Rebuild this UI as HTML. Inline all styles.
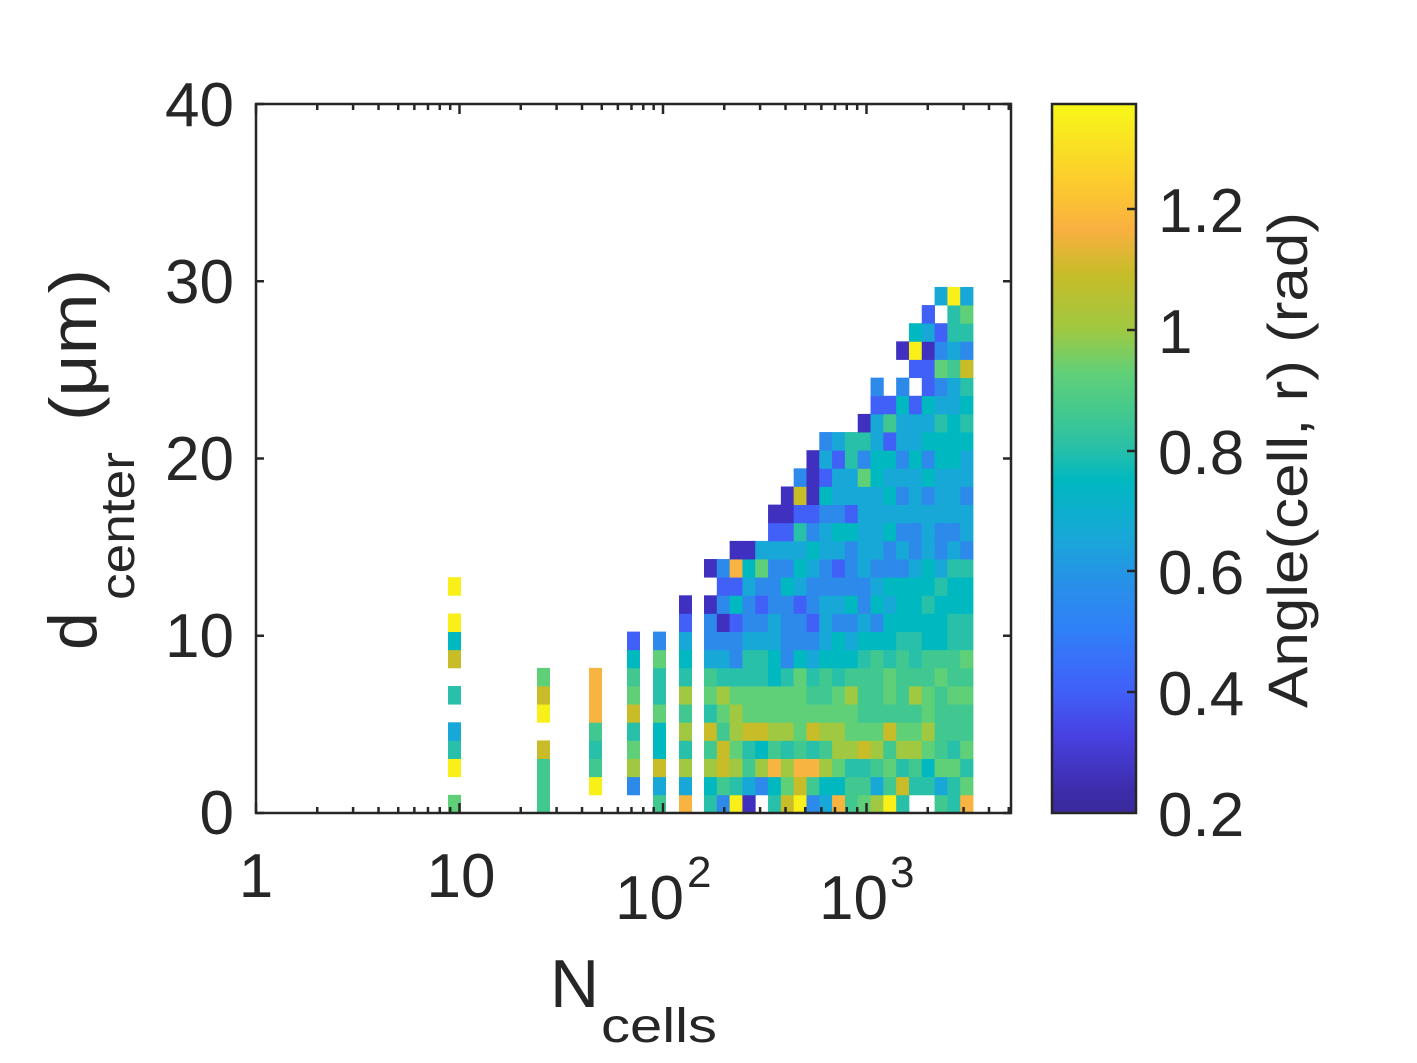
<!DOCTYPE html>
<html><head><meta charset="utf-8"><style>html,body{margin:0;padding:0;background:#fff}svg{display:block}</style></head>
<body>
<svg id="s" width="1417" height="1063" xmlns="http://www.w3.org/2000/svg" font-family="Liberation Sans, Arial, sans-serif" fill="#262626">
<defs>
<linearGradient id="cb" x1="0" y1="1" x2="0" y2="0">
<stop offset="0" stop-color="#3a2a9c"/>
<stop offset="0.028" stop-color="#3c2ca8"/>
<stop offset="0.107" stop-color="#4840e0"/>
<stop offset="0.172" stop-color="#4060f8"/>
<stop offset="0.258" stop-color="#3080f8"/>
<stop offset="0.323" stop-color="#2890e8"/>
<stop offset="0.390" stop-color="#18a8d8"/>
<stop offset="0.469" stop-color="#00b8c0"/>
<stop offset="0.514" stop-color="#28c0a8"/>
<stop offset="0.560" stop-color="#40c890"/>
<stop offset="0.620" stop-color="#60d078"/>
<stop offset="0.683" stop-color="#a0c840"/>
<stop offset="0.762" stop-color="#c8bc28"/>
<stop offset="0.821" stop-color="#f8b040"/>
<stop offset="0.881" stop-color="#fcc830"/>
<stop offset="1" stop-color="#f8f818"/>
</linearGradient>
</defs>
<g id="cells"></g>
<!-- axes box -->
<rect x="256" y="104" width="755" height="709" fill="none" stroke="#262626" stroke-width="2.5"/>
<g id="ticks" stroke="#262626" stroke-width="2.5"></g>
<!-- y tick labels -->
<g font-size="62" text-anchor="end">
<text x="234" y="834">0</text>
<text x="234" y="657">10</text>
<text x="234" y="480">20</text>
<text x="234" y="303">30</text>
<text x="234" y="126">40</text>
</g>
<!-- x tick labels -->
<g font-size="62">
<text x="256" y="897" text-anchor="middle">1</text>
<text x="461" y="897" text-anchor="middle">10</text>
<text x="615" y="919">10</text><text x="687" y="887" font-size="44">2</text>
<text x="819" y="919">10</text><text x="890" y="887" font-size="44">3</text>
</g>
<!-- x label -->
<text x="550" y="1007" font-size="68">N</text>
<text x="601" y="1042" font-size="48" textLength="116" lengthAdjust="spacingAndGlyphs">cells</text>
<!-- y label -->
<g transform="translate(96,650) rotate(-90)">
<text x="0" y="0" font-size="68">d</text>
<text x="50" y="38" font-size="48" textLength="148" lengthAdjust="spacingAndGlyphs">center</text>
<text x="229" y="0" font-size="66" textLength="152" lengthAdjust="spacingAndGlyphs">(μm)</text>
</g>
<!-- colorbar -->
<rect x="1052" y="104" width="84" height="709" fill="url(#cb)" stroke="#262626" stroke-width="2.5"/>
<g stroke="#262626" stroke-width="2.5">
<line x1="1136" y1="209" x2="1127" y2="209"/>
<line x1="1136" y1="330" x2="1127" y2="330"/>
<line x1="1136" y1="451" x2="1127" y2="451"/>
<line x1="1136" y1="571" x2="1127" y2="571"/>
<line x1="1136" y1="692" x2="1127" y2="692"/>
</g>
<g font-size="62">
<text x="1158" y="232">1.2</text>
<text x="1158" y="353">1</text>
<text x="1158" y="474">0.8</text>
<text x="1158" y="594">0.6</text>
<text x="1158" y="715">0.4</text>
<text x="1158" y="836">0.2</text>
</g>
<text transform="translate(1307,708) rotate(-90)" font-size="56" textLength="496" lengthAdjust="spacingAndGlyphs">Angle(cell, r) (rad)</text>
</svg>
<script>
(function(){
var NS="http://www.w3.org/2000/svg";
var C={P:"#4030c0",B:"#4060f8",b:"#2d8aea",c:"#18a8d8",T:"#00b8c0",t:"#28c0a8",G:"#40c890",g:"#60d078",L:"#a0c840",O:"#c8bc28",o:"#f8b440",Y:"#f8f018"};
var cells=document.getElementById("cells");
function rect(x,y,w,h,f){var r=document.createElementNS(NS,"rect");r.setAttribute("x",x);r.setAttribute("y",y);r.setAttribute("width",w);r.setAttribute("height",h);r.setAttribute("fill",f);cells.appendChild(r);}
var RH=18.14;
function rowY(r){return 813-RH*(r+1);}
// dense grid rows r0..r28, 21 cols, offset = starting col index
var dense=[
"tbYP_tOYbcoGgLYt__Gto",
"TGtcbTgOGTTGGcGOttctg",
"LOLGLoLooLgttGgtGTggt",
"GOgtTGtGtGLLOLGLLgGtg",
"OGLOOLLgOLLgggOggLGGG",
"tgLggggggggggGGGGGgGGG",
"gLggggGGgLGGgGLgGggG",
"GttttTtgtGtGGGgGGGgGG",
"ccbttTbTcTTTtGtGtGGGg",
"bbbcccbbbcTcTTTttTTtt",
"bPBbbcbbBcbbcbTTTTTtt",
"PbTbBbbBbccTbTcTTtTTT",
"_BBcbbTcbbbbbcTTTTtTT",
"PboTgbbTcbBbcbbbcTctt"
];
// fix row5 length
dense[5]="tgLgggggggggGGGGGgGGG";
dense[6]="gLggggggGGgLGGgGLgGgg";
var upper={
14:[2,"PPccccTccbccbcbcbcb"],
15:[5,"BBtbcTTccTbbcbbc"],
16:[5,"PPBBbbBcccccccccc"],
17:[6,"POPTccccTbcbccb"],
18:[7,"bPBccgTcccTccc"],
19:[8,"PcBtbTTbTbTTc"],
20:[9,"bcttcBccTTTT"],
21:[12,"PcGccctTt"],
22:[13,"BBTBTccT"],
23:[13,"b_b_Bbct"],
24:[16,"BBgGO"],
25:[15,"PYPbcb"],
26:[16,"TcBtt"],
27:[17,"B_tg"],
28:[18,"cYc"]
};
var X0=704,CW=12.81;
for(var r=0;r<dense.length;r++){var s=dense[r];for(var i=0;i<21&&i<s.length;i++){var k=s[i];if(C[k])rect((X0+CW*i).toFixed(2),rowY(r).toFixed(2),CW+0.4,RH+0.4,C[k]);}}
for(var r in upper){var o=upper[r][0],s=upper[r][1];for(var j=0;j<s.length;j++){var i=o+j;if(i>20)break;var k=s[j];if(C[k])rect((X0+CW*i).toFixed(2),rowY(+r).toFixed(2),CW+0.4,RH+0.4,C[k]);}}
// sparse columns: x, {row:code}
var sparse=[
[448,{12:"Y",10:"Y",9:"T",8:"O",6:"t",4:"c",3:"t",2:"Y",0:"g"}],
[537,{7:"g",6:"O",5:"Y",3:"O",2:"G",1:"G",0:"G"}],
[589,{7:"o",6:"o",5:"o",4:"G",3:"t",2:"G",1:"Y"}],
[627,{9:"B",8:"T",7:"G",6:"g",5:"O",4:"t",3:"g",2:"L",1:"b"}],
[653,{9:"b",8:"g",7:"t",6:"t",5:"g",4:"T",3:"T",2:"O",1:"c",0:"G"}],
[679,{11:"P",10:"B",9:"c",8:"T",7:"t",6:"L",5:"G",4:"L",3:"t",2:"L",1:"c",0:"o"}]
];
sparse.forEach(function(c){for(var r in c[1]){rect(c[0],rowY(+r).toFixed(2),13,RH+0.4,C[c[1][r]]);}});
// ticks
var tg=document.getElementById("ticks");
function line(x1,y1,x2,y2){var l=document.createElementNS(NS,"line");l.setAttribute("x1",x1);l.setAttribute("y1",y1);l.setAttribute("x2",x2);l.setAttribute("y2",y2);tg.appendChild(l);}
[0,10,20,30,40].forEach(function(v){var y=813-v*17.725;line(256,y,264,y);line(1011,y,1003,y);});
var D=203.5;
for(var d=0;d<4;d++){for(var m=1;m<10;m++){var x=256+D*(d+Math.log10(m));if(x>1011)break;var L=(m==1)?10:6;line(x,813,x,813-L);line(x,104,x,104+L);}}
})();
</script>
</body></html>
